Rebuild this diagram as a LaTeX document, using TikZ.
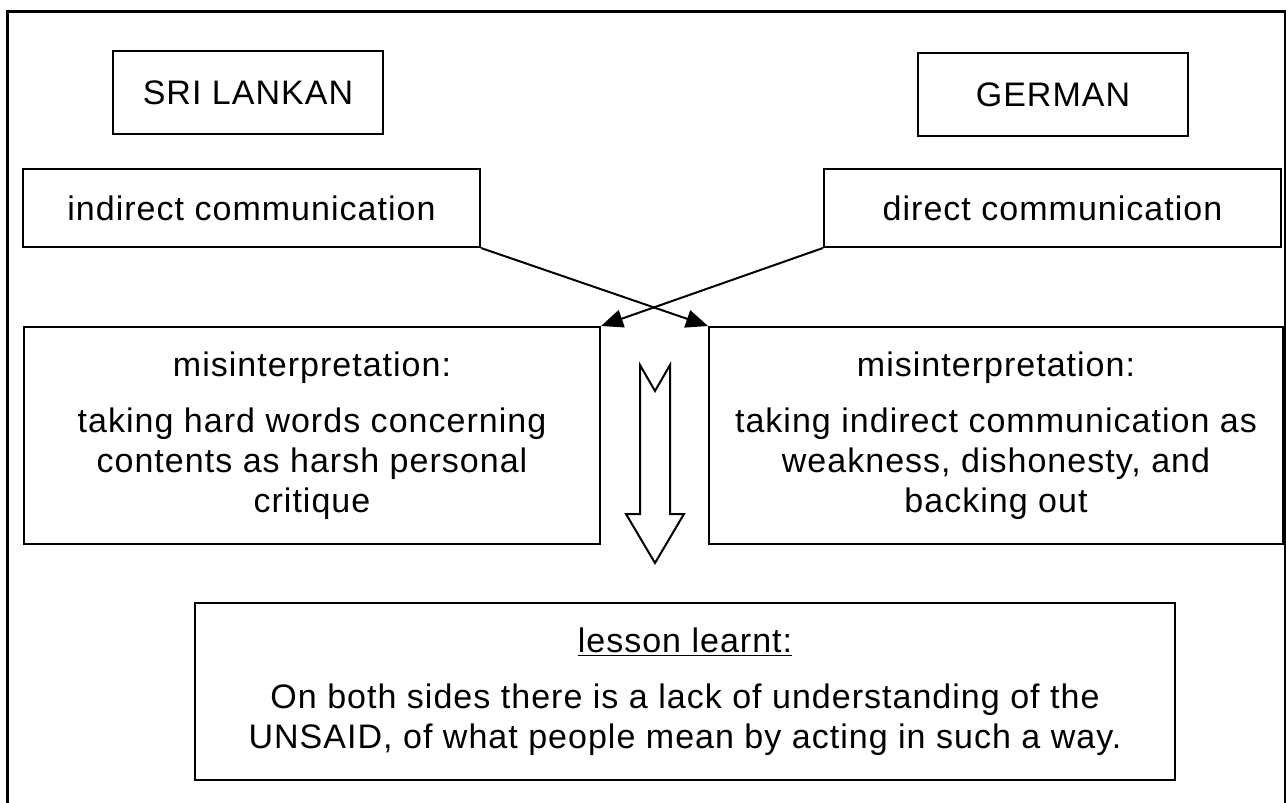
\documentclass[tikz,border=0pt]{standalone}
\usepackage{fontspec}
\setmainfont[LetterSpace=3]{Liberation Sans}
\usepackage{tikz}
\usetikzlibrary{positioning}
\usetikzlibrary{arrows.meta}

\begin{document}
\begin{tikzpicture}[x=0.5pt, y=-0.5pt,
		box/.style={draw, line width=1pt, align=center, inner sep=0pt,
			font=\fontsize{17}{20}\selectfont},
		conn/.style={line width=1pt, -{Triangle[length=11pt,width=9pt]}},
		frame/.style={line width=1.5pt},
		hollow/.style={draw, line width=1pt, fill=white, line join=miter}]
			\useasboundingbox (0,0) rectangle (1286,803);

			% Outer frame (open at the bottom)
			\draw[frame] (7,806) -- (7,11) -- (1285,11) -- (1285,806);

			% Cultures
			\node[box, minimum width=135pt, minimum height=41.5pt] (lankan) at (248,92.5) {SRI LANKAN};
			\node[box, minimum width=135pt, minimum height=41.5pt] (german) at (1053,94.5) {GERMAN};

			% Communication styles
			\node[box, minimum width=228.5pt, minimum height=39pt] (indirect) at (251.5,208) {indirect communication};
			\node[box, minimum width=228.5pt, minimum height=39pt] (direct) at (1052.5,208) {direct communication};

			% Misinterpretations
			\node[box, minimum width=288pt, minimum height=108.5pt] (misL) at (312,435.5)
				{misinterpretation:\\[8pt]taking hard words concerning\\contents as harsh personal\\critique};
			\node[box, minimum width=287pt, minimum height=108.5pt] (misR) at (996,435.5)
				{misinterpretation:\\[8pt]taking indirect communication as\\weakness, dishonesty, and\\backing out};

			% Crossing arrows
			\draw[conn] (indirect.south east) -- (misR.north west);
			\draw[conn] (direct.south west) -- (misL.north east);

			% Hollow arrow down
			\draw[hollow] (640,365) -- (655,391) -- (670,365) -- (670,514) -- (684,514)
				-- (655,563) -- (626,514) -- (640,514) -- cycle;

			% Lesson
			\node[box, minimum width=490pt, minimum height=88.5pt] (lesson) at (685,691.5)
				{\underline{lesson learnt:}\\[8pt]On both sides there is a lack of understanding of the\\UNSAID, of what people mean by acting in such a way.};
		\end{tikzpicture}
\end{document}
